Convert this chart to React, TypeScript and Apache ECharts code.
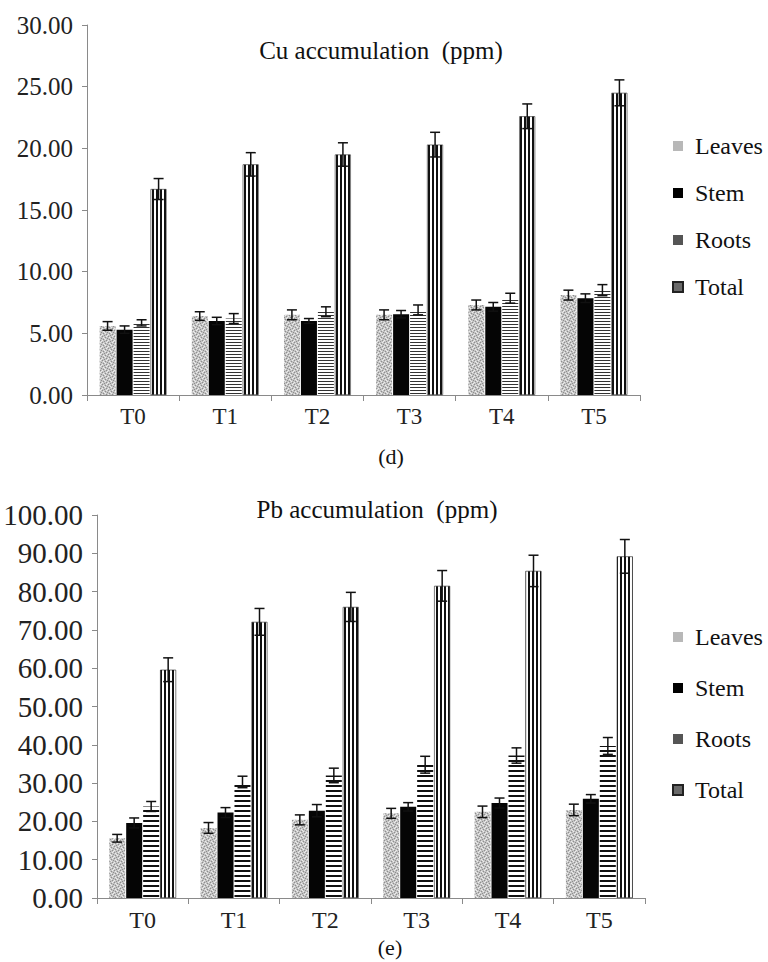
import React, { useEffect, useRef } from "react";
import * as echarts from "echarts";

const categories = ["T0", "T1", "T2", "T3", "T4", "T5"];
const seriesNames = ["Leaves", "Stem", "Roots", "Total"];

const cuLeaves = [5.6, 6.4, 6.5, 6.5, 7.3, 8.1];
const cuStem = [5.3, 6.0, 6.0, 6.55, 7.15, 7.85];
const cuRoots = [5.85, 6.2, 6.75, 6.9, 7.85, 8.5];
const cuTotal = [16.7, 18.7, 19.5, 20.3, 22.6, 24.5];
const cuLeavesErr = [0.35, 0.35, 0.4, 0.4, 0.4, 0.4];
const cuStemErr = [0.3, 0.3, 0.2, 0.3, 0.35, 0.35];
const cuRootsErr = [0.25, 0.4, 0.4, 0.4, 0.4, 0.45];
const cuTotalErr = [0.85, 0.95, 0.95, 1.0, 1.0, 1.05];

const pbLeaves = [15.6, 18.3, 20.4, 22.1, 22.5, 23.0];
const pbStem = [19.6, 22.3, 22.8, 23.8, 24.8, 25.9];
const pbRoots = [23.9, 30.3, 32.0, 34.8, 37.2, 39.7];
const pbTotal = [59.6, 72.1, 76.0, 81.5, 85.4, 89.2];
const pbLeavesErr = [1.0, 1.4, 1.3, 1.3, 1.5, 1.5];
const pbStemErr = [1.3, 1.3, 1.6, 1.1, 1.3, 1.1];
const pbRootsErr = [1.3, 1.5, 1.9, 2.2, 2.0, 2.2];
const pbTotalErr = [3.1, 3.5, 3.8, 4.0, 4.1, 4.4];

const cuTicks = { min: 0, max: 30, interval: 5 };
const pbTicks = { min: 0, max: 100, interval: 10 };

const legendIconColors = ["#b8b8b8", "#000000", "#555555", "#6a6a6a"];

const FONT = "Liberation Serif";
const BAR_W = 16;
const BAR_STEP = 17;

function tile(w: number, h: number, draw: (ctx: CanvasRenderingContext2D) => void) {
  const c = document.createElement("canvas");
  c.width = w;
  c.height = h;
  const ctx = c.getContext("2d") as CanvasRenderingContext2D;
  draw(ctx);
  return c;
}

function makePatterns(fine: boolean) {
  const leaves = tile(6, 6, (ctx) => {
    ctx.fillStyle = "#c4c4c4";
    ctx.fillRect(0, 0, 6, 6);
    ctx.fillStyle = "#8e8e8e";
    [[0, 0], [3, 1], [1, 3], [4, 4], [5, 2], [2, 5]].forEach(([x, y]) => ctx.fillRect(x, y, 1, 1));
    ctx.fillStyle = "#ececec";
    [[1, 1], [4, 0], [0, 4], [3, 3], [5, 5], [2, 2]].forEach(([x, y]) => ctx.fillRect(x, y, 1, 1));
  });
  const roots = fine
    ? tile(3, 3, (ctx) => {
        ctx.fillStyle = "#ffffff";
        ctx.fillRect(0, 0, 3, 3);
        ctx.fillStyle = "#333333";
        ctx.fillRect(0, 0, 3, 1);
      })
    : tile(5, 5, (ctx) => {
        ctx.fillStyle = "#ffffff";
        ctx.fillRect(0, 0, 5, 5);
        ctx.fillStyle = "#111111";
        ctx.fillRect(0, 0, 5, 2);
      });
  const total = tile(4, 4, (ctx) => {
    ctx.fillStyle = "#ffffff";
    ctx.fillRect(0, 0, 4, 4);
    ctx.fillStyle = "#111111";
    ctx.fillRect(0, 0, 2, 4);
  });
  return [
    { image: leaves, repeat: "repeat" },
    "#050505",
    { image: roots, repeat: "repeat" },
    { image: total, repeat: "repeat" },
  ];
}

export default function App() {
  const ref = useRef<HTMLDivElement>(null);
  useEffect(() => {
    if (!ref.current) return;
    const chart = echarts.init(ref.current, null, { renderer: "svg" });
    const colorsTop = makePatterns(true);
    const colorsBottom = makePatterns(false);

    const cuVals = [cuLeaves, cuStem, cuRoots, cuTotal];
    const cuErrs = [cuLeavesErr, cuStemErr, cuRootsErr, cuTotalErr];
    const pbVals = [pbLeaves, pbStem, pbRoots, pbTotal];
    const pbErrs = [pbLeavesErr, pbStemErr, pbRootsErr, pbTotalErr];

    const axisGray = "#8a8a8a";
    const labelColor = "#222";

    const makeX = (gridIndex: number, fontSize: number) => ({
      type: "category",
      gridIndex,
      data: categories,
      boundaryGap: true,
      axisLine: { lineStyle: { color: axisGray, width: 1 } },
      axisTick: { show: true, length: 6, lineStyle: { color: axisGray }, alignWithLabel: false },
      axisLabel: { color: labelColor, fontFamily: FONT, fontSize, margin: 10 },
      splitLine: { show: false },
    });
    const makeY = (gridIndex: number, t: any, fontSize: number, margin: number) => ({
      type: "value",
      gridIndex,
      min: t.min,
      max: t.max,
      interval: t.interval,
      axisLine: { show: true, lineStyle: { color: axisGray, width: 1 } },
      axisTick: { show: true, length: 5, lineStyle: { color: axisGray } },
      axisLabel: {
        color: labelColor,
        fontFamily: FONT,
        fontSize,
        margin,
        formatter: (v: number) => v.toFixed(2),
      },
      splitLine: { show: false },
    });

    const barSeries = (gridIndex: number, vals: number[][], colors: any[]) =>
      seriesNames.map((name, i) => ({
        type: "bar",
        name,
        xAxisIndex: gridIndex,
        yAxisIndex: gridIndex,
        data: vals[i],
        barWidth: BAR_W,
        barGap: "6%",
        itemStyle: {
          color: colors[i],
          borderColor: i === 3 ? "#222" : i === 1 ? "#000" : "transparent",
          borderWidth: i === 3 ? 0.6 : 0,
        },
      }));

    const errSeries = (gridIndex: number, vals: number[][], errs: number[][]) => {
      const data: number[][] = [];
      vals.forEach((arr, si) =>
        arr.forEach((v, ci) => data.push([ci, si, v, errs[si][ci]]))
      );
      return {
        type: "custom",
        xAxisIndex: gridIndex,
        yAxisIndex: gridIndex,
        z: 10,
        silent: true,
        data,
        encode: { x: 0, y: 2 },
        renderItem: (_p: any, api: any) => {
          const ci = api.value(0);
          const si = api.value(1);
          const v = api.value(2);
          const e = api.value(3);
          const c = api.coord([ci, v]);
          const x = c[0] + (si - 1.5) * BAR_STEP;
          const yt = api.coord([ci, v + e])[1];
          const yb = api.coord([ci, v - e])[1];
          const cap = 5;
          const style = { stroke: "#111", lineWidth: 1.5 };
          return {
            type: "group",
            children: [
              { type: "line", shape: { x1: x, y1: yt, x2: x, y2: yb }, style },
              { type: "line", shape: { x1: x - cap, y1: yt, x2: x + cap, y2: yt }, style },
              { type: "line", shape: { x1: x - cap, y1: yb, x2: x + cap, y2: yb }, style },
            ],
          };
        },
      };
    };

    const legendBase = (top: number, gap: number) => ({
      orient: "vertical",
      left: 672,
      top,
      padding: 0,
      itemWidth: 10,
      itemHeight: 10,
      itemGap: gap,
      icon: "rect",
      data: seriesNames.map((name, i) => ({
        name,
        itemStyle: { color: legendIconColors[i] },
      })),
      textStyle: {
        fontFamily: FONT,
        fontSize: 24,
        color: "#111",
        padding: [0, 0, 0, 7],
      },
    });

    const textEl = (text: string, x: number, y: number, size: number) => ({
      type: "text",
      x,
      y,
      style: {
        text,
        fontFamily: FONT,
        fontSize: size,
        fill: "#111",
        textAlign: "center",
        textVerticalAlign: "middle",
      },
    });

    chart.setOption({
      animation: false,
      backgroundColor: "#ffffff",
      grid: [
        { left: 87, top: 25, width: 553, height: 370 },
        { left: 97, top: 515, width: 548, height: 383 },
      ],
      xAxis: [makeX(0, 23), makeX(1, 24)],
      yAxis: [makeY(0, cuTicks, 25, 14), makeY(1, pbTicks, 29, 14)],
      legend: [legendBase(134, 23), legendBase(625, 27)],
      graphic: [
        textEl("Cu accumulation  (ppm)", 381, 50, 25),
        textEl("(d)", 391, 456, 22),
        textEl("Pb accumulation  (ppm)", 377, 509, 25),
        textEl("(e)", 390, 947, 22),
      ],
      series: [
        ...barSeries(0, cuVals, colorsTop),
        ...barSeries(1, pbVals, colorsBottom),
        errSeries(0, cuVals, cuErrs),
        errSeries(1, pbVals, pbErrs),
      ],
    });
    return () => chart.dispose();
  }, []);
  return (
    <div
      ref={ref}
      style={{ position: "fixed", left: 0, top: 0, width: 768, height: 962, background: "#fff" }}
    />
  );
}
